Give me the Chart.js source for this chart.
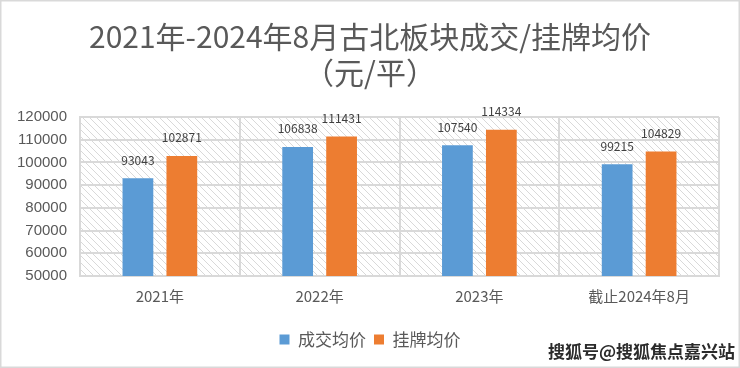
<!DOCTYPE html>
<html>
<head>
<meta charset="utf-8">
<script src="https://cdn.jsdelivr.net/npm/chart.js@4/dist/chart.umd.min.js"></script>
<style>
    body { margin: 0; background: #fff; }
    #wrap { width: 740px; height: 368px; }
</style>
</head>
<body>
<div id="wrap"><canvas id="bar-js" width="740" height="368"></canvas></div>
<script>
const CATEGORIES = ['2021年', '2022年', '2023年', '截止2024年8月'];
const DEAL_PRICE = [93043, 106838, 107540, 99215];
const LIST_PRICE = [102871, 111431, 114334, 104829];
const SERIES_NAMES = ['成交均价', '挂牌均价'];
const TITLE_LINES = ['2021年-2024年8月古北板块成交/挂牌均价', '（元/平）'];
const Y_MIN = 50000, Y_MAX = 120000, Y_STEP = 10000;
const WATERMARK = '搜狐号@搜狐焦点嘉兴站';

const FONT = "'Noto Sans CJK SC', 'Liberation Sans', sans-serif";
const GRID = '#d9d9d9';
const TEXT = '#595959';

// diagonal hatch behind the plot area + grey frame around the picture
const backgroundPlugin = {
    id: 'hatch',
    afterLayout(chart) {
        // let the y labels use the left padding too (labels are clipped to the scale box)
        chart.scales.y.left = 0;
    },
    beforeDraw(chart) {
        const {ctx, chartArea: a, width, height} = chart;
        ctx.save();
        ctx.fillStyle = '#fff';
        ctx.fillRect(0, 0, width, height);

        const tile = document.createElement('canvas');
        tile.width = 7; tile.height = 7;
        const t = tile.getContext('2d');
        t.strokeStyle = '#d9d9d9';
        t.lineWidth = 1;
        t.beginPath();
        t.moveTo(-1, -1); t.lineTo(8, 8);
        t.moveTo(-1, 6); t.lineTo(1, 8);
        t.moveTo(6, -1); t.lineTo(8, 1);
        t.stroke();
        ctx.fillStyle = ctx.createPattern(tile, 'repeat');
        ctx.fillRect(a.left, a.top, a.right - a.left, a.bottom - a.top);

        ctx.strokeStyle = GRID;
        ctx.lineWidth = 3;
        ctx.strokeRect(0, 0, width, height);
        ctx.restore();
    }
};

// value labels above every bar, plus the watermark
const labelsPlugin = {
    id: 'valueLabels',
    afterDatasetsDraw(chart) {
        const {ctx} = chart;
        ctx.save();
        ctx.font = '12px ' + FONT;
        ctx.fillStyle = '#404040';
        ctx.textAlign = 'center';
        ctx.textBaseline = 'middle';
        chart.data.datasets.forEach((ds, i) => {
            chart.getDatasetMeta(i).data.forEach((bar, j) => {
                ctx.fillText(ds.data[j], bar.x, bar.y - 18);
            });
        });
        ctx.restore();
    },
    afterDraw(chart) {
        const {ctx} = chart;
        ctx.save();
        ctx.font = 'bold 17px ' + FONT;
        ctx.textAlign = 'right';
        ctx.textBaseline = 'middle';
        ctx.lineWidth = 3;
        ctx.strokeStyle = 'rgba(255,255,255,0.9)';
        ctx.strokeText(WATERMARK, 735, 352);
        ctx.fillStyle = '#2b2b2b';
        ctx.fillText(WATERMARK, 735, 352);
        ctx.restore();
    }
};

new Chart(document.getElementById('bar-js').getContext('2d'), {
    type: 'bar',
    data: {
        labels: CATEGORIES,
        datasets: [{
            label: SERIES_NAMES[0],
            data: DEAL_PRICE,
            backgroundColor: '#5b9bd5',
            categoryPercentage: 0.55,
            barPercentage: 0.7
        }, {
            label: SERIES_NAMES[1],
            data: LIST_PRICE,
            backgroundColor: '#ed7d31',
            categoryPercentage: 0.55,
            barPercentage: 0.7
        }]
    },
    options: {
        responsive: false,
        animation: false,
        devicePixelRatio: 1,
        layout: { padding: { top: 9, right: 21, bottom: 10, left: 21 } },
        plugins: {
            title: {
                display: true,
                text: TITLE_LINES,
                color: TEXT,
                font: { family: FONT, size: 30, weight: 'normal', lineHeight: 1.2 },
                padding: { top: 10, bottom: 26 }
            },
            legend: {
                display: true,
                position: 'bottom',
                labels: {
                    color: TEXT,
                    font: { family: FONT, size: 17 },
                    boxWidth: 10,
                    boxHeight: 10,
                    padding: 8
                }
            },
            tooltip: { enabled: false }
        },
        scales: {
            x: {
                grid: { color: GRID, lineWidth: 2, drawTicks: false },
                border: { color: GRID, width: 2 },
                ticks: { color: TEXT, font: { family: FONT, size: 15 }, padding: 11 },
                afterFit: (scale) => { scale.height = 47; }
            },
            y: {
                min: Y_MIN,
                max: Y_MAX,
                grid: { color: GRID, lineWidth: 2, drawTicks: false },
                border: { color: GRID, width: 2 },
                ticks: {
                    stepSize: Y_STEP,
                    color: TEXT,
                    font: { family: 'Liberation Sans', size: 15 },
                    padding: 13,
                    callback: (v) => String(v)
                },
                afterFit: (scale) => { scale.width = 59; }
            }
        }
    },
    plugins: [backgroundPlugin, labelsPlugin]
});
</script>
</body>
</html>
